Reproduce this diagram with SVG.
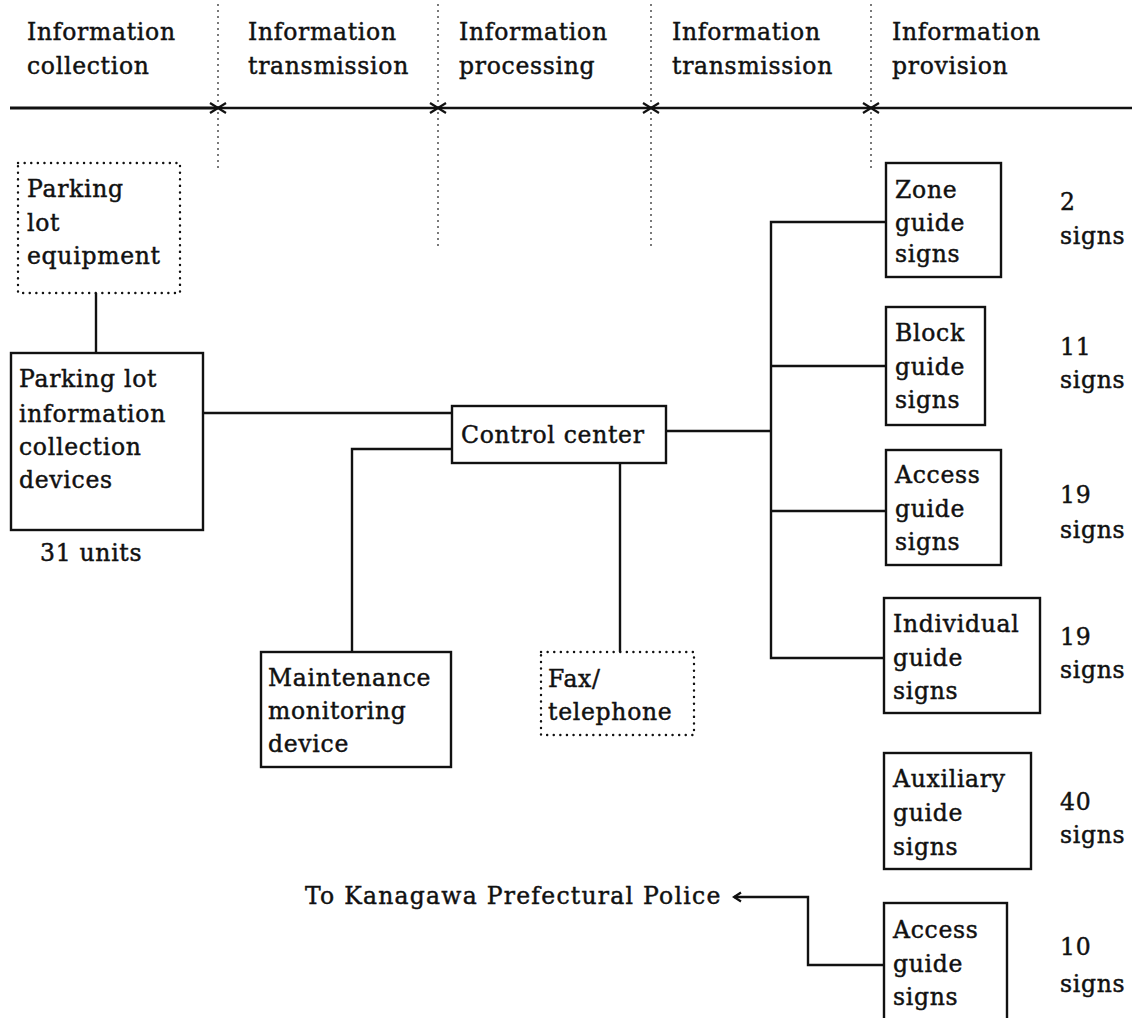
<svg xmlns="http://www.w3.org/2000/svg" width="1132" height="1018" viewBox="0 0 1132 1018">
<style>
text{font-family:"DejaVu Serif","Liberation Serif",serif;font-size:23.5px;fill:#111;stroke:#111;stroke-width:0.45;letter-spacing:0.7px}
.box{fill:#fff;stroke:#111;stroke-width:2.4}
.dbox{fill:#fff;stroke:#111;stroke-width:2.4;stroke-dasharray:0.1 6.5;stroke-linecap:round}
.ln{fill:none;stroke:#111;stroke-width:2.4}
.vd{stroke:#333;stroke-width:1.3;stroke-dasharray:2 4}
</style>
<defs>
<marker id="ah" markerWidth="12" markerHeight="12" refX="10" refY="6" orient="auto" markerUnits="userSpaceOnUse">
<path d="M3,1.5 L10,6 L3,10.5" fill="none" stroke="#111" stroke-width="2.2"/>
</marker>
</defs>
<rect width="1132" height="1018" fill="#fff"/>
<g id="header">
<text x="27" y="40">Information</text><text x="27" y="74">collection</text>
<text x="248" y="40">Information</text><text x="248" y="74">transmission</text>
<text x="459" y="40">Information</text><text x="459" y="74">processing</text>
<text x="672" y="40">Information</text><text x="672" y="74">transmission</text>
<text x="892" y="40">Information</text><text x="892" y="74">provision</text>
</g>
<g id="axis">
<line x1="10" y1="108" x2="218" y2="108" stroke="#111" stroke-width="3.2"/>
<line x1="218" y1="108" x2="1132" y2="108" stroke="#111" stroke-width="2.4"/>
<line class="vd" x1="218" y1="4" x2="218" y2="172"/>
<line class="vd" x1="438" y1="4" x2="438" y2="246"/>
<line class="vd" x1="651" y1="4" x2="651" y2="246"/>
<line class="vd" x1="871" y1="4" x2="871" y2="172"/>
<g stroke="#111" stroke-width="2.2">
<path d="M210,103 L226,113 M210,113 L226,103"/>
<path d="M430,103 L446,113 M430,113 L446,103"/>
<path d="M643,103 L659,113 M643,113 L659,103"/>
<path d="M863,103 L879,113 M863,113 L879,103"/>
</g>
</g>
<g id="connectors">
<line class="ln" x1="96" y1="293" x2="96" y2="353"/>
<line class="ln" x1="203" y1="413" x2="452" y2="413"/>
<polyline class="ln" points="452,449 352,449 352,652"/>
<line class="ln" x1="620" y1="463" x2="620" y2="652"/>
<line class="ln" x1="666" y1="431" x2="771" y2="431"/>
<polyline class="ln" points="886,222 771,222 771,658 884,658"/>
<line class="ln" x1="771" y1="366" x2="886" y2="366"/>
<line class="ln" x1="771" y1="511" x2="886" y2="511"/>
<polyline class="ln" points="884,965 808,965 808,897 734,897" marker-end="url(#ah)"/>
</g>
<g id="parking-lot-equipment">
<rect class="dbox" x="18" y="163" width="162" height="130"/>
<text x="27" y="197">Parking</text><text x="27" y="231">lot</text><text x="27" y="264">equipment</text>
</g>
<g id="collection-devices">
<rect class="box" x="11" y="353" width="192" height="177"/>
<text x="19" y="387">Parking lot</text><text x="19" y="422">information</text><text x="19" y="455">collection</text><text x="19" y="488">devices</text>
</g>
<g id="units-label"><text x="40" y="561">31 units</text></g>
<g id="control-center">
<rect class="box" x="452" y="406" width="214" height="57"/>
<text x="461" y="443">Control center</text>
</g>
<g id="maintenance">
<rect class="box" x="261" y="652" width="190" height="115"/>
<text x="268" y="686">Maintenance</text><text x="268" y="719">monitoring</text><text x="268" y="752">device</text>
</g>
<g id="fax">
<rect class="dbox" x="541" y="652" width="153" height="83"/>
<text x="548" y="687">Fax/</text><text x="548" y="720">telephone</text>
</g>
<g id="zone">
<rect class="box" x="886" y="163" width="115" height="114"/>
<text x="895" y="198">Zone</text><text x="895" y="231">guide</text><text x="895" y="262">signs</text>
<text x="1060" y="210">2</text><text x="1060" y="244">signs</text>
</g>
<g id="block">
<rect class="box" x="886" y="307" width="99" height="118"/>
<text x="895" y="341">Block</text><text x="895" y="375">guide</text><text x="895" y="408">signs</text>
<text x="1060" y="355">11</text><text x="1060" y="388">signs</text>
</g>
<g id="access1">
<rect class="box" x="886" y="450" width="115" height="115"/>
<text x="895" y="483">Access</text><text x="895" y="517">guide</text><text x="895" y="550">signs</text>
<text x="1060" y="503">19</text><text x="1060" y="538">signs</text>
</g>
<g id="individual">
<rect class="box" x="884" y="598" width="156" height="115"/>
<text x="893" y="632">Individual</text><text x="893" y="666">guide</text><text x="893" y="699">signs</text>
<text x="1060" y="645">19</text><text x="1060" y="678">signs</text>
</g>
<g id="auxiliary">
<rect class="box" x="884" y="753" width="147" height="116"/>
<text x="893" y="787">Auxiliary</text><text x="893" y="821">guide</text><text x="893" y="855">signs</text>
<text x="1060" y="810">40</text><text x="1060" y="843">signs</text>
</g>
<g id="access2">
<rect class="box" x="884" y="903" width="123" height="120"/>
<text x="893" y="938">Access</text><text x="893" y="972">guide</text><text x="893" y="1005">signs</text>
<text x="1060" y="955">10</text><text x="1060" y="992">signs</text>
</g>
<g id="police-label"><text x="305" y="904" textLength="416" lengthAdjust="spacing">To Kanagawa Prefectural Police</text></g>
</svg>
